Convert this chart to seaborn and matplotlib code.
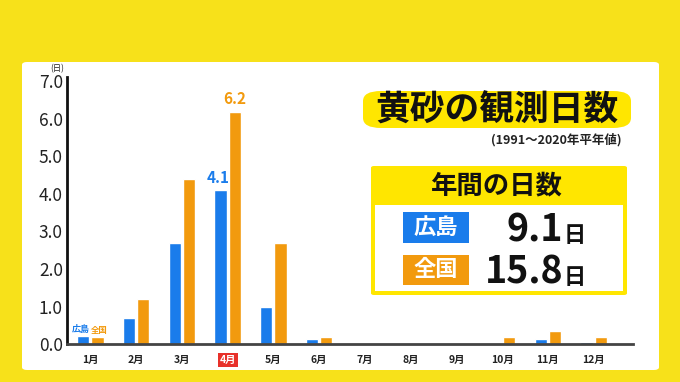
# 黄砂の観測日数 (1991~2020 平年値) chart

import seaborn as sns
import matplotlib.pyplot as plt
import pandas as pd
from matplotlib.patches import FancyBboxPatch, Rectangle

# data
months = ["1月", "2月", "3月", "4月", "5月", "6月", "7月", "8月", "9月", "10月", "11月", "12月"]
hiroshima = [0.22, 0.7, 2.7, 4.1, 1.0, 0.13, 0, 0, 0, 0, 0.13, 0.06]
zenkoku = [0.18, 1.2, 4.4, 6.2, 2.7, 0.18, 0, 0, 0, 0.18, 0.35, 0.2]
regions = ["広島", "全国"]
annual = ["9.1", "15.8"]
ytick_values = [0, 1, 2, 3, 4, 5, 6, 7]

BLUE = "#1A7CEB"
ORANGE = "#F29A0E"
YELLOW = "#F7E11A"
FONT = ["Noto Sans CJK JP", "DejaVu Sans"]

sns.set_theme(style="white")
plt.rcParams['font.family'] = FONT

df = pd.DataFrame({
    "month": months * 2,
    "region": [regions[0]] * 12 + [regions[1]] * 12,
    "days": hiroshima + zenkoku,
})

W, H = 680, 382
fig = plt.figure(figsize=(6.8, 3.82), dpi=100)
fig.patch.set_facecolor(YELLOW)


def fx(px):
    return px / W


def fy(py):
    return 1 - py / H


def box(x0, y0, x1, y1, color, rad=4, ec="none", lw=0, z=0):
    p = FancyBboxPatch((fx(x0), fy(y1)), fx(x1 - x0), (y1 - y0) / H,
                       boxstyle="round,pad=0,rounding_size=%f" % (rad / W),
                       transform=fig.transFigure, facecolor=color,
                       edgecolor=ec, linewidth=lw, zorder=z)
    fig.patches.append(p)


# white panel
box(22, 62, 659, 370, "white", rad=5, z=-1)

# bar chart
ax = fig.add_axes([fx(67), fy(344), fx(633 - 67), (344 - 77) / H])
ax.set_zorder(5)
ax.set_facecolor("none")
sns.barplot(data=df, x="month", y="days", hue="region", order=months,
            hue_order=regions, palette=[BLUE, ORANGE], width=0.62, gap=0.14,
            saturation=1, legend=False, ax=ax)
ax.set_xlim(-0.51, 11.86)
ax.set_ylim(0, 7.12)
ax.set_yticks(ytick_values)
ax.set_yticklabels(["%.1f" % v for v in ytick_values], fontsize=12.5, color="#222222")
ax.set_xlabel("")
ax.set_ylabel("")
ax.tick_params(axis="y", length=0, pad=3)
ax.tick_params(axis="x", length=0, pad=8, labelsize=7.5)
for lab in ax.get_xticklabels():
    lab.set_fontweight("bold")
    lab.set_color("#222222")
    if lab.get_text() == "4月":
        lab.set_color("white")
        lab.set_bbox(dict(facecolor="#E8312A", edgecolor="none", pad=1.2))
sns.despine(ax=ax)
ax.spines["left"].set_linewidth(2)
ax.spines["left"].set_color("#111111")
ax.spines["bottom"].set_linewidth(2)
ax.spines["bottom"].set_color("#444444")

blue_bars = ax.containers[0]
orange_bars = ax.containers[1]

# value labels for April
b = blue_bars[3]
ax.text(b.get_x() + b.get_width() / 2 - 0.05, b.get_height() + 0.12, "4.1",
        color=BLUE, fontsize=11, fontweight="bold", ha="center", va="bottom")
b = orange_bars[3]
ax.text(b.get_x() + b.get_width() / 2, b.get_height() + 0.12, "6.2",
        color=ORANGE, fontsize=11, fontweight="bold", ha="center", va="bottom")

# region names above January bars
b = blue_bars[0]
ax.text(b.get_x() + b.get_width() / 2 - 0.05, b.get_height() + 0.06, regions[0],
        color=BLUE, fontsize=6.5, fontweight="bold", ha="center", va="bottom")
b = orange_bars[0]
ax.text(b.get_x() + b.get_width() / 2 + 0.05, b.get_height() + 0.06, regions[1],
        color=ORANGE, fontsize=6, fontweight="bold", ha="center", va="bottom")

fig.text(fx(57), fy(69), "(日)", fontsize=6, ha="center", va="center", color="#222222")

# title
box(363, 91, 631, 128, "#FFE600", rad=18)
fig.text(fx(497), fy(110), "黄砂の観測日数", fontsize=25, fontweight="bold",
         ha="center", va="center", color="#111111")
fig.text(fx(622), fy(140), "(1991～2020年平年値)", fontsize=9, fontweight="bold",
         ha="right", va="center", color="#222222")

# annual days box
box(371, 166, 627, 295, "#FFE600", rad=3)
fig.patches.append(Rectangle((fx(375), fy(291)), fx(248), (291 - 205) / H,
                             transform=fig.transFigure, facecolor="white",
                             edgecolor="none", zorder=1))
fig.text(fx(497), fy(186), "年間の日数", fontsize=19, fontweight="bold",
         ha="center", va="center", color="#111111")

label_rows = [(212, 243, 242), (255, 285, 284)]
for (top, bot, base), name, col, val in zip(label_rows, regions, [BLUE, ORANGE], annual):
    fig.patches.append(Rectangle((fx(403), fy(bot)), fx(66), (bot - top) / H,
                                 transform=fig.transFigure, facecolor=col,
                                 edgecolor="none", zorder=2))
    fig.text(fx(436), fy((top + bot) / 2), name, fontsize=16, fontweight="bold",
             ha="center", va="center", color="white", zorder=3)
    fig.text(fx(563), fy(base), val, fontsize=27, fontweight="bold",
             ha="right", va="baseline", color="#111111", zorder=3)
    fig.text(fx(564), fy(base), "日", fontsize=16, fontweight="bold",
             ha="left", va="baseline", color="#111111", zorder=3)

plt.savefig("out.png", dpi=100, facecolor=fig.get_facecolor())
